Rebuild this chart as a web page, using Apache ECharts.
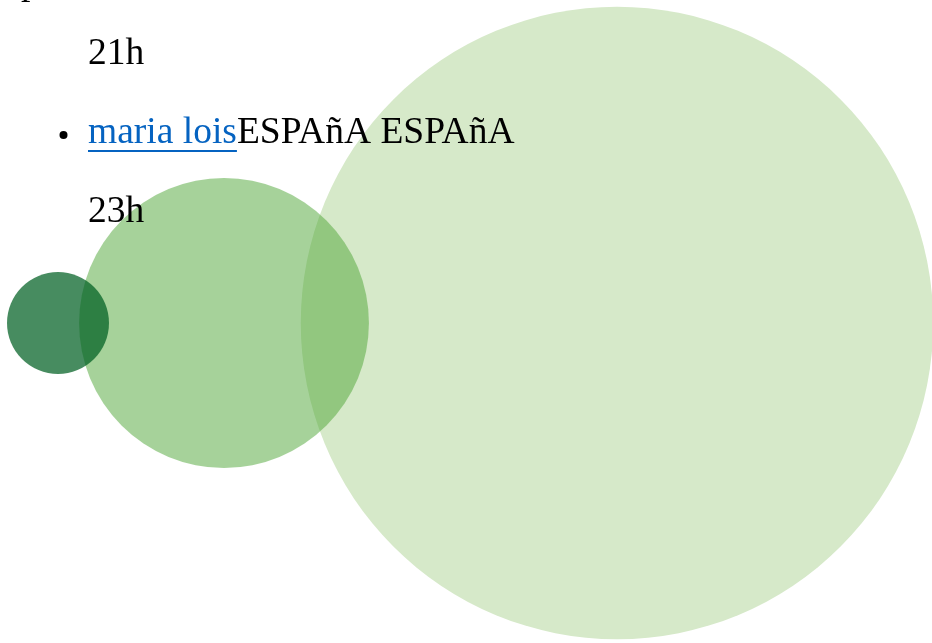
<!DOCTYPE html>
<html>
<head>
<meta charset="utf-8">
<script src="https://cdn.jsdelivr.net/npm/echarts@6/dist/echarts.min.js"></script>
<style>
html,body{margin:0;padding:0;background:#fff;}
#chart{width:932px;height:643px;}
</style>
</head>
<body>
<div id="chart"></div>
<script>
// Bubble data (drawn back to front)
const bubbleX = [617, 224, 58];
const bubbleY = [323, 323, 323];
const bubbleValue = [1000, 210, 26];
const bubbleColor = ['rgba(214,233,201,1)', 'rgba(77,165,53,0.5)', 'rgba(0,95,35,0.72)'];

// Page text
const line1 = '21h';
const linkText = 'maria lois';
const afterLink = 'ESPAñA ESPAñA';
const line3 = '23h';

const FONT = '37.5px "Liberation Serif", "Times New Roman", serif';
const ctx = document.createElement('canvas').getContext('2d');
ctx.font = FONT;
const linkW = ctx.measureText(linkText).width;

const chart = echarts.init(document.getElementById('chart'), null, {renderer: 'canvas'});
chart.setOption({
  animation: false,
  grid: {left: 0, right: 0, top: 0, bottom: 0},
  xAxis: {type: 'value', min: 0, max: 932, show: false},
  yAxis: {type: 'value', min: 0, max: 643, inverse: true, show: false},
  series: [{
    type: 'scatter',
    silent: true,
    itemStyle: {opacity: 1},
    data: bubbleX.map((x, i) => ({
      value: [x, bubbleY[i], bubbleValue[i]],
      itemStyle: {color: bubbleColor[i], opacity: 1}
    })),
    symbolSize: v => 20 * Math.sqrt(v[2])
  }],
  graphic: [
    {type: 'text', x: 21, y: -16, z: 100, style: {text: 'p', font: FONT, fill: '#000', verticalAlign: 'middle'}},
    {type: 'text', x: 88, y: 54.5, z: 100, style: {text: line1, font: FONT, fill: '#000', verticalAlign: 'middle'}},
    {type: 'circle', z: 100, shape: {cx: 63.5, cy: 135, r: 4}, style: {fill: '#000'}},
    {type: 'text', x: 88, y: 133.5, z: 100, style: {text: linkText, font: FONT, fill: '#0563C1', verticalAlign: 'middle'}},
    {type: 'rect', z: 100, shape: {x: 88, y: 150, width: linkW, height: 2}, style: {fill: '#0563C1'}},
    {type: 'text', x: 88 + linkW, y: 133.5, z: 100, style: {text: afterLink, font: FONT, fill: '#000', verticalAlign: 'middle'}},
    {type: 'text', x: 88, y: 212.5, z: 100, style: {text: line3, font: FONT, fill: '#000', verticalAlign: 'middle'}}
  ]
});
</script>
</body>
</html>
